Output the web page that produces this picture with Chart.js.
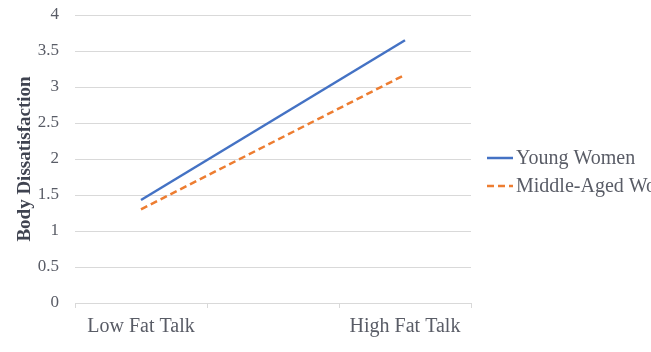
<!DOCTYPE html>
<html>
<head>
<meta charset="utf-8">
<script src="https://cdn.jsdelivr.net/npm/chart.js@4/dist/chart.umd.min.js"></script>
<style>
html,body{margin:0;padding:0;background:#fff;}
#wrap{width:651px;height:352px;position:relative;}
</style>
</head>
<body>
<div id="wrap"><canvas id="c" width="651" height="352"></canvas></div>
<script>
const categories = ['Low Fat Talk', '', 'High Fat Talk'];
const youngWomen = [1.43, null, 3.65];
const middleAgedWomen = [1.30, null, 3.17];
const seriesNames = ['Young Women', 'Middle-Aged Women'];
const yTitle = 'Body Dissatisfaction';

const FONT = "'Liberation Serif', 'Times New Roman', serif";
const TEXT = '#595c66';

const legendPlugin = {
  id: 'sideLegend',
  afterDraw(chart) {
    const ctx = chart.ctx;
    const x0 = 487, x1 = 513, tx = 516;
    const ys = [158, 186];
    ctx.save();
    chart.data.datasets.forEach((ds, i) => {
      ctx.beginPath();
      ctx.strokeStyle = ds.borderColor;
      ctx.lineWidth = ds.borderWidth;
      ctx.setLineDash(ds.borderDash || []);
      ctx.moveTo(x0, ys[i]);
      ctx.lineTo(x1, ys[i]);
      ctx.stroke();
      ctx.setLineDash([]);
      ctx.fillStyle = TEXT;
      ctx.font = '20px ' + FONT;
      ctx.textBaseline = 'middle';
      ctx.textAlign = 'left';
      ctx.fillText(ds.label, tx, ys[i] + 1);
    });
    ctx.restore();
  }
};

new Chart(document.getElementById('c'), {
  type: 'line',
  data: {
    labels: categories,
    datasets: [
      { label: seriesNames[0], data: youngWomen, borderColor: '#4472C4', backgroundColor: '#4472C4',
        borderWidth: 2.5, pointRadius: 0, spanGaps: true, tension: 0 },
      { label: seriesNames[1], data: middleAgedWomen, borderColor: '#ED7D31', backgroundColor: '#ED7D31',
        borderWidth: 2.5, borderDash: [7, 4], pointRadius: 0, spanGaps: true, tension: 0 }
    ]
  },
  options: {
    responsive: false,
    animation: false,
    layout: { padding: { top: 15, right: 180, bottom: 0, left: 0 } },
    plugins: { legend: { display: false }, tooltip: { enabled: false } },
    scales: {
      x: {
        type: 'category',
        offset: true,
        grid: { display: true, drawOnChartArea: false, offset: true, tickLength: 5, color: '#d9d9d9', lineWidth: 1 },
        border: { display: true, color: '#d9d9d9', width: 1 },
        ticks: { color: TEXT, font: { family: FONT, size: 20 }, padding: 7, maxRotation: 0, autoSkip: false },
        afterFit(scale) { scale.height = 49; scale.paddingLeft = 0; scale.paddingRight = 0; }
      },
      y: {
        min: 0, max: 4,
        ticks: { stepSize: 0.5, color: TEXT, font: { family: FONT, size: 17 }, padding: 16,
                 callback: (v) => String(Number(v)) },
        grid: { color: '#d9d9d9', lineWidth: 1, tickLength: 0, drawTicks: false },
        border: { display: false },
        title: { display: true, text: yTitle, color: '#3f4350', font: { family: FONT, size: 19, weight: 'bold' }, padding: { top: 14, bottom: 0 } },
        afterFit(scale) { scale.width = 75; scale.paddingTop = 0; scale.paddingBottom = 0; }
      }
    }
  },
  plugins: [legendPlugin]
});
</script>
</body>
</html>
